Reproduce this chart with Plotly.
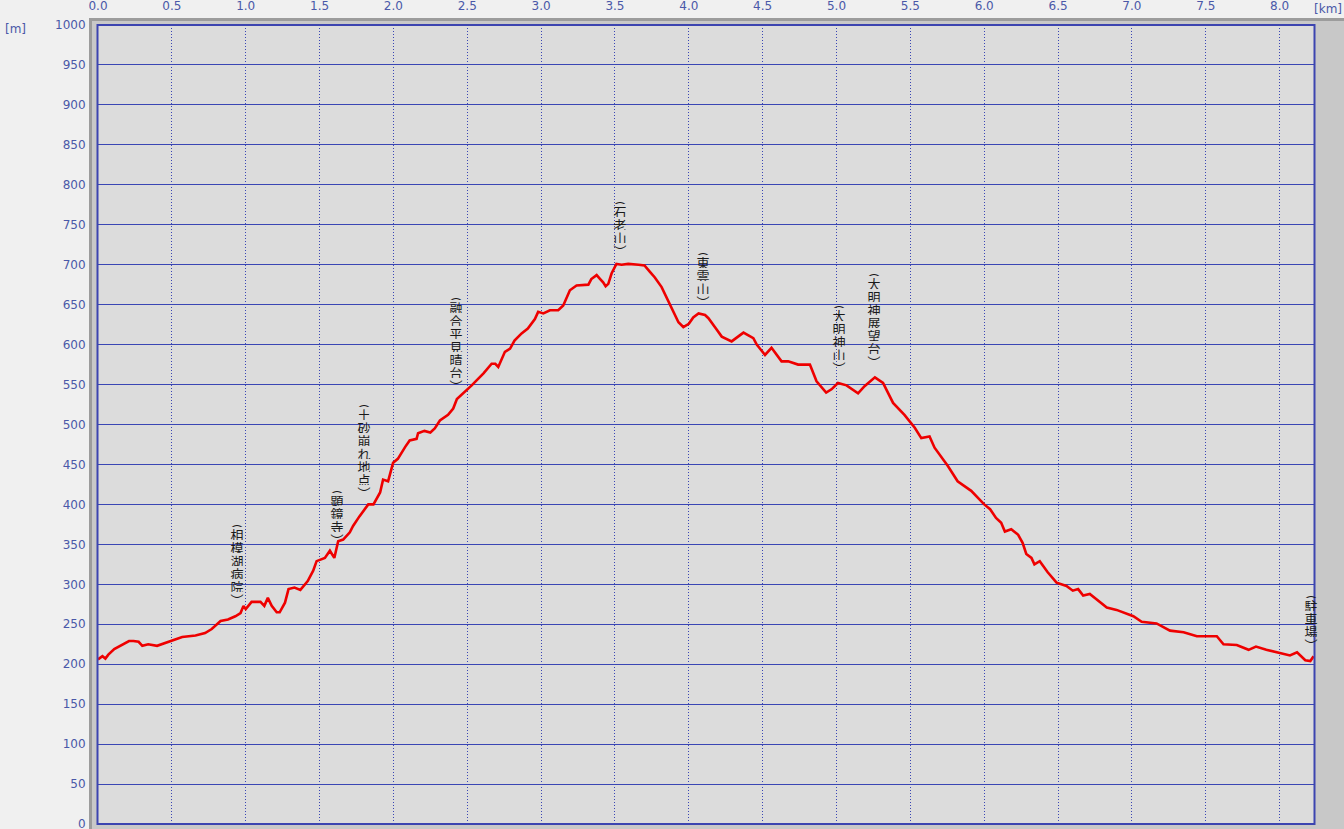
import plotly.graph_objects as go

# ---------------- data ----------------
dist_km = [
    0.00, 0.03, 0.05, 0.07, 0.11, 0.15, 0.21, 0.24, 0.275, 0.30,
    0.34, 0.40, 0.43, 0.50, 0.57, 0.66, 0.725, 0.77, 0.83, 0.88,
    0.93, 0.965, 0.985, 1.00, 1.04, 1.10, 1.126, 1.15, 1.176, 1.21,
    1.23, 1.266, 1.29, 1.33, 1.37, 1.42, 1.457, 1.48, 1.536, 1.57,
    1.60, 1.626, 1.66, 1.705, 1.727, 1.77, 1.83, 1.865, 1.91, 1.93,
    1.964, 1.998, 2.03,
    2.08, 2.11, 2.157, 2.167, 2.21, 2.25, 2.28, 2.315, 2.37, 2.405,
    2.43, 2.484, 2.53, 2.61, 2.665, 2.69, 2.71, 2.755, 2.79, 2.82,
    2.868, 2.91, 2.958, 2.98, 3.015, 3.06, 3.116, 3.15, 3.17, 3.195,
    3.24, 3.32, 3.34, 3.376, 3.40, 3.42, 3.437, 3.455, 3.477, 3.51,
    3.545, 3.59, 3.66, 3.70, 3.737, 3.77, 3.816, 3.86, 3.895, 3.93,
    3.963, 4.00, 4.03, 4.066, 4.11,
    4.133, 4.18, 4.223, 4.29, 4.37, 4.437, 4.46, 4.516, 4.56, 4.628,
    4.673, 4.74, 4.82, 4.865, 4.93, 4.966, 5.01, 5.068, 5.146, 5.19,
    5.26, 5.315, 5.383, 5.46, 5.53, 5.574, 5.63, 5.664, 5.754, 5.82,
    5.912, 6.00,
    6.04, 6.08, 6.115, 6.14, 6.183, 6.23, 6.26, 6.285, 6.32, 6.34,
    6.376, 6.43, 6.49, 6.557, 6.60, 6.636, 6.67, 6.715, 6.76, 6.83,
    6.896, 6.94, 7.01, 7.066, 7.167, 7.258, 7.35, 7.44, 7.54, 7.575,
    7.62, 7.71, 7.79, 7.84, 7.91, 7.98, 8.07, 8.118, 8.174, 8.208,
    8.23,
]

elev_m = [
    206, 210, 207, 212, 219, 223, 229, 229, 228, 223,
    225, 223, 225, 230, 234, 236, 239, 244, 254, 256,
    260, 264, 273, 269, 278, 278, 273, 283, 273, 265,
    265, 277, 294, 296, 293, 304, 317, 329, 333, 342,
    333, 354, 356, 365, 373, 385, 400, 400, 415, 431,
    429, 452, 457,
    472, 480, 482, 489, 492, 490, 495, 505, 512, 520,
    532, 541, 549, 564, 576, 576, 572, 591, 595, 605,
    614, 620, 632, 641, 639, 643, 643, 649, 657, 668,
    674, 675, 682, 687, 682, 678, 673, 676, 689, 701,
    700, 701, 700, 699, 691, 684, 672, 655, 643, 628,
    622, 626, 634, 639, 637,
    633, 621, 610, 604, 615, 608, 600, 587, 596, 579,
    579, 575, 575, 554, 540, 544, 552, 549, 539, 548,
    559, 552, 527, 512, 496, 483, 485, 471, 448, 429,
    417, 400,
    394, 383, 377, 366, 369, 362, 352, 338, 333, 325,
    329, 315, 302, 298, 292, 294, 286, 288, 281, 271,
    268, 265, 260, 253, 251, 242, 240, 235, 235, 235,
    225, 224, 218, 222, 218, 215, 211, 215, 205, 204,
    210,
]

label_names = ["駐車場", "相模湖病院", "顕鏡寺", "土砂崩れ地点", "融合平見晴台",
               "石老山", "東雲山", "大明神山", "大明神展望台", "駐車場"]
label_km = [-0.005, 0.941, 1.618, 1.801, 2.424, 3.534, 4.096, 5.017, 5.254, 8.213]
label_top_m = [287, 377, 420, 527, 662, 781, 718, 652, 691, 289]

x_tickvals = [0.0, 0.5, 1.0, 1.5, 2.0, 2.5, 3.0, 3.5, 4.0, 4.5, 5.0, 5.5, 6.0, 6.5, 7.0, 7.5, 8.0]
x_ticktext = ["0.0", "0.5", "1.0", "1.5", "2.0", "2.5", "3.0", "3.5", "4.0", "4.5",
              "5.0", "5.5", "6.0", "6.5", "7.0", "7.5", "8.0"]
y_tickvals = list(range(0, 1001, 50))

# ---------------- layout geometry (pixels) ----------------
W, H = 1344, 829
PL, PR, PT, PB = 98, 1314, 25, 824
pw, ph = PR - PL, PB - PT


def px(xp):
    return (xp - PL) / pw


def py(yp):
    return (PB - yp) / ph


GRID = "#3a46b4"
TICKC = "#4a58a8"
TICKFONT = dict(family="DejaVu Sans", size=12, color=TICKC)

fig = go.Figure()
fig.add_trace(go.Scatter(
    x=dist_km, y=elev_m, mode="lines",
    line=dict(color="#ee0000", width=2.6),
    hoverinfo="x+y", showlegend=False,
))

shapes = [
    # outer bevel frame
    dict(type="rect", xref="paper", yref="paper", x0=px(89), x1=px(W + 2), y0=py(18), y1=py(H + 2),
         fillcolor="#c8c8c8", line=dict(width=0), layer="below"),
    dict(type="rect", xref="paper", yref="paper", x0=px(89), x1=px(92), y0=py(18), y1=py(H + 2),
         fillcolor="#9c9c9c", line=dict(width=0), layer="below"),
    dict(type="rect", xref="paper", yref="paper", x0=px(89), x1=px(W + 2), y0=py(18), y1=py(21),
         fillcolor="#9c9c9c", line=dict(width=0), layer="below"),
    # plot area
    dict(type="rect", xref="paper", yref="paper", x0=0, x1=1, y0=0, y1=1,
         fillcolor="#dcdcdc", line=dict(width=0), layer="below"),
    # blue border
    dict(type="rect", xref="paper", yref="paper", x0=px(PL - 0.5), x1=px(PR + 0.5), y0=0, y1=1,
         fillcolor="rgba(0,0,0,0)", line=dict(color="#3c44b0", width=2), layer="above"),
]

annotations = [
    dict(text="[m]", xref="paper", yref="paper", x=px(15), y=py(29), showarrow=False,
         xanchor="center", yanchor="middle", font=TICKFONT),
    dict(text="[km]", xref="paper", yref="paper", x=px(1328), y=py(9), showarrow=False,
         xanchor="center", yanchor="middle", font=TICKFONT),
]

PITCH = 13
for name, km, top in zip(label_names, label_km, label_top_m):
    chars = ["︵"] + list(name) + ["︶"]
    for j, ch in enumerate(chars):
        annotations.append(dict(
            text=ch, x=km, y=top, xref="x", yref="y", showarrow=False,
            xanchor="center", yanchor="middle", yshift=1.5 - PITCH * j,
            height=PITCH - 1, width=14, borderpad=0, borderwidth=0,
            font=dict(family="Noto Sans CJK JP", size=13, color="#1a1a1a"),
        ))

fig.update_layout(
    width=W, height=H,
    margin=dict(l=PL, r=W - PR, t=PT, b=H - PB, pad=0, autoexpand=False),
    paper_bgcolor="#f0f0f0",
    plot_bgcolor="#dcdcdc",
    shapes=shapes,
    annotations=annotations,
    xaxis=dict(
        side="top", range=[0, (PR - PL) / 147.7], tickvals=x_tickvals, ticktext=x_ticktext,
        showgrid=True, gridcolor=GRID, gridwidth=1, griddash="1px,2px",
        zeroline=False, showline=False, ticks="outside", ticklen=9,
        tickcolor="rgba(0,0,0,0)", tickfont=TICKFONT, fixedrange=True,
        ticklabeloverflow="allow", automargin=False,
    ),
    yaxis=dict(
        range=[0, 1000], tickvals=y_tickvals,
        showgrid=True, gridcolor=GRID, gridwidth=1,
        zeroline=False, showline=False, ticks="outside", ticklen=9,
        tickcolor="rgba(0,0,0,0)", tickfont=TICKFONT, fixedrange=True,
        ticklabeloverflow="allow", automargin=False,
    ),
)

fig.write_html(
    "out.html",
    config={"displayModeBar": False},
    post_script="document.body.style.margin='0';document.body.style.overflow='hidden';",
)
